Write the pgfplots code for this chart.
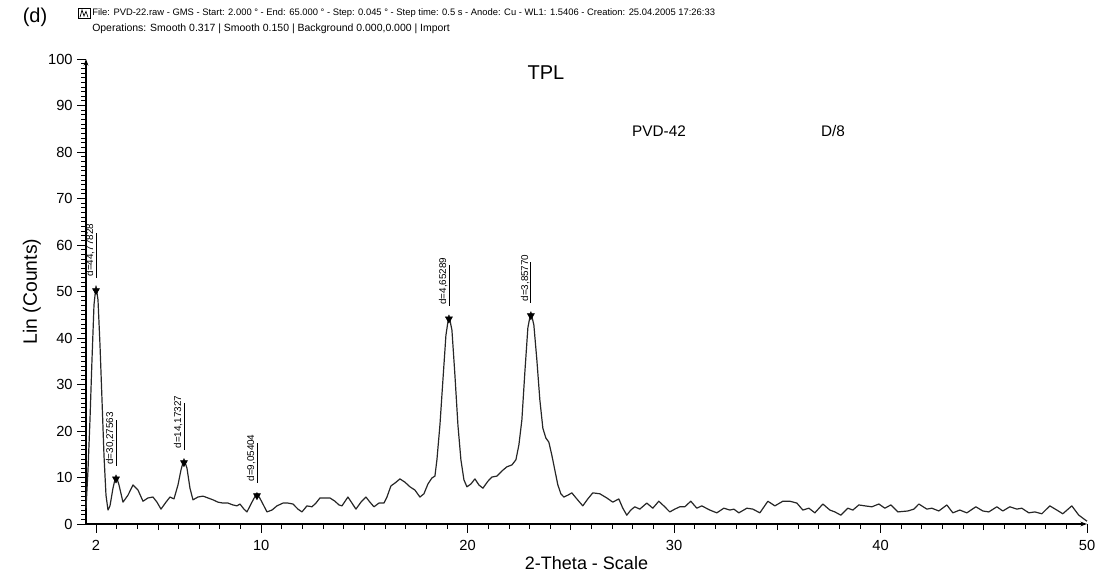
\documentclass[border=0pt]{standalone}
\usepackage{pgfplots}
\pgfplotsset{compat=1.18}
\usepackage{fontspec}
\setmainfont{Liberation Sans}
\usetikzlibrary{arrows.meta}

\pgfplotstableread{
x y
1.516 3.4
1.613 11.6
1.709 22.4
1.806 35.3
1.903 47.1
2.000 51.2
2.097 48.2
2.194 38.5
2.291 26.7
2.387 14.8
2.484 6.2
2.581 3.0
2.678 3.9
2.823 7.7
2.969 10.5
3.114 8.4
3.307 4.7
3.550 6.2
3.792 8.4
4.034 7.3
4.276 4.9
4.518 5.6
4.760 5.8
4.954 4.7
5.148 3.2
5.390 4.7
5.583 5.8
5.777 5.4
5.971 8.4
6.116 11.6
6.261 14.0
6.407 12.0
6.552 7.7
6.697 5.2
6.939 5.8
7.182 6.0
7.424 5.6
7.666 5.2
7.908 4.7
8.150 4.5
8.392 4.5
8.634 4.1
8.828 3.9
8.973 4.3
9.167 3.2
9.312 2.6
9.554 4.7
9.797 6.7
10.039 4.7
10.281 2.6
10.523 3.0
10.765 3.9
11.056 4.5
11.298 4.5
11.540 4.3
11.782 3.2
11.976 2.6
12.218 3.9
12.460 3.7
12.654 4.5
12.847 5.6
13.089 5.6
13.332 5.6
13.574 4.9
13.768 4.1
13.913 3.9
14.203 5.8
14.397 4.5
14.591 3.2
14.833 4.7
15.075 5.8
15.269 4.7
15.462 3.7
15.704 4.5
15.947 4.5
16.092 5.8
16.286 8.2
16.479 8.8
16.721 9.7
16.963 9.0
17.206 8.0
17.448 7.3
17.690 5.8
17.884 6.5
18.077 8.6
18.271 9.9
18.416 10.3
18.513 13.8
18.659 21.3
18.804 31.0
18.949 40.6
19.094 44.9
19.240 41.7
19.385 32.0
19.530 21.3
19.675 13.8
19.821 9.5
19.966 8.0
20.159 8.6
20.353 9.7
20.546 8.4
20.740 7.7
20.982 9.2
21.176 10.1
21.418 10.3
21.660 11.4
21.902 12.3
22.144 12.7
22.338 13.8
22.483 17.0
22.628 22.4
22.773 32.7
22.918 42.2
23.063 45.6
23.208 42.8
23.353 35.3
23.498 26.7
23.644 20.6
23.789 18.5
23.934 17.6
24.079 14.8
24.224 11.6
24.370 8.4
24.515 6.5
24.660 5.8
24.853 6.2
25.047 6.7
25.289 5.4
25.579 3.9
25.821 5.4
26.063 6.7
26.402 6.5
26.741 5.6
27.032 4.7
27.322 5.4
27.516 3.4
27.710 1.9
27.903 3.0
28.097 3.7
28.339 3.2
28.678 4.5
28.969 3.4
29.259 4.9
29.501 3.9
29.792 2.6
30.034 3.2
30.276 3.7
30.518 3.7
30.809 4.9
31.099 3.4
31.341 3.9
31.729 3.0
32.068 2.4
32.411 3.4
32.702 3.0
32.896 3.2
33.138 2.4
33.525 3.4
33.816 3.2
34.155 2.4
34.542 4.9
34.881 3.9
35.269 4.9
35.608 4.9
35.947 4.5
36.237 3.0
36.528 3.4
36.818 2.4
37.206 4.3
37.545 3.0
37.787 2.6
38.077 1.9
38.416 3.4
38.659 3.0
38.949 4.1
39.240 3.9
39.579 3.7
39.918 4.3
40.208 3.4
40.499 4.1
40.838 2.6
41.322 2.8
41.613 3.2
41.855 4.3
42.242 3.2
42.484 3.4
42.823 2.8
43.210 4.1
43.501 2.4
43.840 3.0
44.179 2.4
44.615 3.7
44.954 2.8
45.244 2.6
45.632 3.7
45.922 2.8
46.261 3.7
46.600 3.2
46.842 3.4
47.181 2.4
47.472 2.6
47.811 2.2
48.198 3.9
48.537 3.0
48.827 2.2
49.263 3.9
49.602 1.9
49.845 1.1
50.000 0.6
}\xrdtable

\pgfplotstableread{
x y
2.000 51.0
2.969 10.5
6.261 14.0
9.797 6.9
19.094 44.9
23.063 45.6
}\peaktable

\begin{document}
\begin{tikzpicture}
\useasboundingbox (-64.5pt,-36pt) rectangle (757.5pt,393pt);
\begin{axis}[
  at={(0pt,0pt)}, anchor=south west,
  scale only axis, width=750.75pt, height=348.75pt,
  xmin=1.516, xmax=50, ymin=0, ymax=100,
  axis x line=bottom, axis y line=left,
  axis line style={line width=0.8pt, -{Stealth[length=5pt,width=3.5pt]}},
  xtick={2,10,20,30,40,50},
  minor xtick={3,4,6,7,8,9,11,12,13,14,16,17,18,19,21,22,23,24,26,27,28,29,31,32,33,34,36,37,38,39,41,42,43,44,46,47,48,49},
  extra x ticks={5,15,25,35,45}, extra x tick labels={},
  extra x tick style={major tick length=4.5pt},
  ytick={0,10,...,100},
  minor y tick num=9,
  tick align=outside,
  major tick length=6.5pt, minor tick length=3.5pt,
  tick style={black, line width=0.6pt},
  /pgf/number format/assume math mode=true,
  tick label style={font=\fontsize{11}{12}\selectfont},
  xticklabel style={yshift=-2.5pt},
  xlabel={2-Theta - Scale},
  ylabel={Lin (Counts)},
  xlabel style={font=\fontsize{13.5}{15}\selectfont, at={(axis description cs:0.5,-0.0839)}, anchor=center},
  ylabel style={font=\fontsize{14.5}{16}\selectfont, at={(axis description cs:-0.054,0.5)}, anchor=center},
  clip=false,
]
\addplot[black!85, line width=0.9pt, line join=round] table[x=x,y=y]{\xrdtable};
% annotation lines for the peaks
\addplot[black, line width=0.6pt, forget plot] coordinates {(2.000,53) (2.000,62.6)};
\addplot[black, line width=0.6pt, forget plot] coordinates {(2.969,12.5) (2.969,22.4)};
\addplot[black, line width=0.6pt, forget plot] coordinates {(6.261,16) (6.261,26.0)};
\addplot[black, line width=0.6pt, forget plot] coordinates {(9.797,8.9) (9.797,17.4)};
\addplot[black, line width=0.6pt, forget plot] coordinates {(19.094,46.9) (19.094,55.7)};
\addplot[black, line width=0.6pt, forget plot] coordinates {(23.063,47.6) (23.063,56.3)};
\addplot[only marks, mark=triangle*, mark size=3pt, black,
  mark options={rotate=180, yshift=2.8pt}] table[x=x,y=y]{\peaktable};
\node[rotate=90, anchor=south west, inner xsep=0pt, inner ysep=1pt, font=\fontsize{7.4}{8}\selectfont] at (axis cs:2.000,53.2) {d=44,77828};
\node[rotate=90, anchor=south west, inner xsep=0pt, inner ysep=1pt, font=\fontsize{7.4}{8}\selectfont] at (axis cs:2.969,12.7) {d=30,27563};
\node[rotate=90, anchor=south west, inner xsep=0pt, inner ysep=1pt, font=\fontsize{7.4}{8}\selectfont] at (axis cs:6.261,16.2) {d=14,17327};
\node[rotate=90, anchor=south west, inner xsep=0pt, inner ysep=1pt, font=\fontsize{7.4}{8}\selectfont] at (axis cs:9.797,9.1) {d=9,05404};
\node[rotate=90, anchor=south west, inner xsep=0pt, inner ysep=1pt, font=\fontsize{7.4}{8}\selectfont] at (axis cs:19.094,47.1) {d=4,65289};
\node[rotate=90, anchor=south west, inner xsep=0pt, inner ysep=1pt, font=\fontsize{7.4}{8}\selectfont] at (axis cs:23.063,47.8) {d=3,85770};
\end{axis}
% header and free texts
\node[font=\fontsize{15}{16}\selectfont] at (-38.25pt,380.25pt) {(d)};
\draw[line width=0.5pt] (-5.5pt,379pt) rectangle (3pt,387pt);
\draw[line width=0.5pt] (-4.5pt,380pt) -- (-3pt,385.5pt) -- (-1.5pt,381pt) -- (0pt,384.5pt) -- (1.5pt,380pt);
\node[anchor=west, inner sep=0pt, font=\fontsize{7.05}{8}\selectfont] at (4.5pt,383.25pt) {File: PVD-22.raw - GMS - Start: 2.000 ° - End: 65.000 ° - Step: 0.045 ° - Step time: 0.5 s - Anode: Cu - WL1: 1.5406 - Creation: 25.04.2005 17:26:33};
\node[anchor=west, inner sep=0pt, font=\fontsize{7.85}{9}\selectfont] at (4.5pt,371.25pt) {Operations: Smooth 0.317 | Smooth 0.150 | Background 0.000,0.000 | Import};
\node[font=\fontsize{15}{16}\selectfont] at (345pt,338.25pt) {TPL};
\node[font=\fontsize{11.5}{13}\selectfont] at (429.75pt,294.75pt) {PVD-42};
\node[font=\fontsize{11.5}{13}\selectfont] at (560.25pt,294.75pt) {D/8};
\end{tikzpicture}
\end{document}
